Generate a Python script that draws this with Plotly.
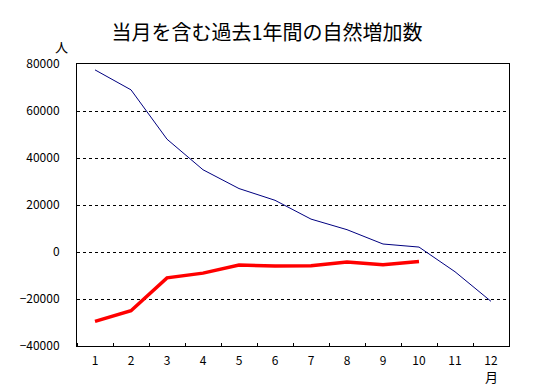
import plotly.graph_objects as go

months = list(range(1, 13))
month_labels = [str(m) for m in months]
blue_values = [77500, 69000, 48000, 35000, 27000, 22000, 14000, 9500, 3400, 2100, -8400, -21000]
red_values = [-29500, -25000, -11000, -9000, -5500, -6000, -5800, -4300, -5400, -4000]
y_ticks = [-40000, -20000, 0, 20000, 40000, 60000, 80000]

font_family = "Noto Sans CJK JP"
OFF = 8  # page body margin
W, H = 534 - OFF, 385 - OFF
ML, MR, MT, MB = 64 - OFF, 25, 64 - OFF, 39
PW, PH = W - ML - MR, H - MT - MB


def px_to_paper(px, py):
    # page pixel -> paper coords
    fx, fy = px - OFF, py - OFF
    return (fx - ML) / PW, (H - fy - MB) / PH


fig = go.Figure()
fig.add_trace(go.Scatter(x=months, y=blue_values, mode="lines",
                         line=dict(color="#000080", width=1), showlegend=False))
fig.add_trace(go.Scatter(x=months[:len(red_values)], y=red_values, mode="lines",
                         line=dict(color="#FF0000", width=3.5), showlegend=False))

fig.update_layout(
    width=W, height=H,
    margin=dict(l=ML, r=MR, t=MT, b=MB),
    paper_bgcolor="white", plot_bgcolor="white",
    font=dict(family=font_family, color="black", size=12),
    title=dict(text="当月を含む過去1年間の自然増加数", x=(267 - OFF) / W, xanchor="center",
               y=1 - (33 - OFF) / H, yanchor="middle",
               font=dict(size=20, family=font_family)),
    xaxis=dict(range=[0.5, 12.5], tickvals=months, ticktext=month_labels,
               showgrid=False, zeroline=False, showline=True, linecolor="black",
               linewidth=1, mirror=True, ticks="", ticklabelstandoff=4,
               minor=dict(tick0=0.5, dtick=1, ticks="inside", ticklen=3,
                          tickcolor="black", showgrid=False),
               fixedrange=True),
    yaxis=dict(range=[-40000, 80000], tickvals=y_ticks, tickformat="d",
               showgrid=True, gridcolor="black", gridwidth=1, griddash="3px,3px",
               zeroline=False, showline=True, linecolor="black", linewidth=1,
               mirror=True, ticks="", ticklabelstandoff=14, fixedrange=True),
)

ax, ay = px_to_paper(48, 46)
fig.add_annotation(text="人", x=ax, y=ay, xref="paper", yref="paper",
                   xanchor="center", yanchor="middle",
                   showarrow=False, font=dict(size=13))
ax, ay = px_to_paper(491, 376)
fig.add_annotation(text="月", x=ax, y=ay, xref="paper", yref="paper",
                   xanchor="center", yanchor="middle",
                   showarrow=False, font=dict(size=13))

fig.write_html("out.html")
